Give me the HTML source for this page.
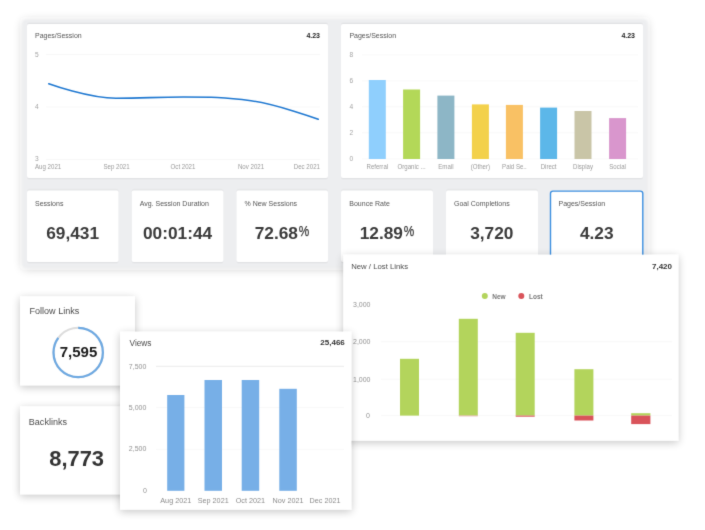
<!DOCTYPE html>
<html>
<head>
<meta charset="utf-8">
<title>Dashboard</title>
<style>
html,body{margin:0;padding:0;background:#fff;}
body{width:705px;height:530px;overflow:hidden;position:relative;font-family:"Liberation Sans",sans-serif;}
svg{position:absolute;left:0;top:0;display:block;}
text{font-family:"Liberation Sans",sans-serif;}
.ttl{font-size:7px;fill:#555;}
.ttl8{font-size:7.75px;fill:#4c4c4c;}
.ttl9{font-size:9.05px;fill:#4c4c4c;}
.val{font-size:7px;font-weight:bold;fill:#222;}
.val8{font-size:8px;font-weight:bold;fill:#333;}
.ax{font-size:6.2px;fill:#9a9a9a;}
.axb{font-size:7px;fill:#9a9a9a;}
.axl{font-size:6.6px;fill:#9a9a9a;}
.ay{font-size:6.6px;fill:#a4a4a4;}
.ax7{font-size:7px;fill:#929292;}
.ax75{font-size:7.25px;fill:#8c8c8c;}
.big{font-size:17.3px;font-weight:bold;fill:#3a3a3a;}
.pct{font-size:14.5px;font-weight:normal;fill:#3a3a3a;stroke:#3a3a3a;stroke-width:0.25;}
.grid{stroke:#f3f3f3;stroke-width:0.6;}
</style>
</head>
<body>
<svg width="705" height="530" viewBox="0 0 705 530">
<defs>
  <filter id="shP" x="-10%" y="-15%" width="120%" height="135%">
    <feGaussianBlur in="SourceAlpha" stdDeviation="4.8" result="b1"/>
    <feOffset in="b1" dx="0" dy="0.5" result="o1"/>
    <feComponentTransfer in="o1" result="s1"><feFuncA type="linear" slope="0.2"/></feComponentTransfer>
    <feGaussianBlur in="SourceGraphic" stdDeviation="0.8" result="sg"/>
    <feMerge><feMergeNode in="s1"/><feMergeNode in="sg"/></feMerge>
  </filter>
  <filter id="shF" x="-20%" y="-20%" width="140%" height="145%">
    <feGaussianBlur in="SourceAlpha" stdDeviation="4.5"/>
    <feOffset dx="0" dy="1.5"/>
    <feComponentTransfer><feFuncA type="linear" slope="0.23"/></feComponentTransfer>
    <feMerge><feMergeNode/><feMergeNode in="SourceGraphic"/></feMerge>
  </filter>
  <filter id="shC" x="-5%" y="-5%" width="110%" height="115%">
    <feGaussianBlur in="SourceAlpha" stdDeviation="0.6 0.8"/>
    <feOffset dx="0" dy="0.2"/>
    <feComponentTransfer><feFuncA type="linear" slope="0.16"/></feComponentTransfer>
    <feMerge><feMergeNode/><feMergeNode in="SourceGraphic"/></feMerge>
  </filter>
  <filter id="soft" x="0" y="0" width="705" height="530" filterUnits="userSpaceOnUse" color-interpolation-filters="sRGB"><feConvolveMatrix order="3" kernelMatrix="0.0125 0.0813 0.0125 0.0813 0.6250 0.0813 0.0125 0.0813 0.0125" edgeMode="duplicate" preserveAlpha="false"/></filter>
</defs>
<rect x="0" y="0" width="705" height="530" fill="#fff"/>
<g filter="url(#soft)">
<rect x="0" y="0" width="705" height="530" fill="#fff"/>

<!-- ===== grey dashboard panel ===== -->
<rect x="22.3" y="19.5" width="625.2" height="248.4" rx="4" fill="#edeef0" filter="url(#shP)"/>

<!-- big card A : line chart -->
<rect x="27" y="24" width="301" height="154" rx="2" fill="#fff" filter="url(#shC)"/>
<text class="ttl" x="35" y="38">Pages/Session</text>
<text class="val" x="320" y="38" text-anchor="end">4.23</text>
<line class="grid" x1="46" x2="320" y1="54.5" y2="54.5"/>
<line class="grid" x1="46" x2="320" y1="107" y2="107"/>
<line class="grid" x1="46" x2="320" y1="159.5" y2="159.5"/>
<text class="ay" x="35" y="56.8">5</text>
<text class="ay" x="35" y="109.3">4</text>
<text class="ay" x="35" y="161">3</text>
<path d="M48.75 83.75 C48.75 83.75 89.10 98.25 116.00 98.25 C143.00 98.25 156.50 97.00 183.50 97.00 C210.50 97.00 224.00 97.00 251.00 100.75 C277.90 104.50 318.25 119.25 318.25 119.25" fill="none" stroke="#1f78d1" stroke-width="1.6" stroke-linecap="round"/>
<text class="axl" transform="translate(35 168.9) scale(0.93 1)">Aug 2021</text>
<text class="axl" transform="translate(116.5 168.9) scale(0.93 1)" text-anchor="middle">Sep 2021</text>
<text class="axl" transform="translate(183 168.9) scale(0.93 1)" text-anchor="middle">Oct 2021</text>
<text class="axl" transform="translate(251 168.9) scale(0.93 1)" text-anchor="middle">Nov 2021</text>
<text class="axl" transform="translate(320 168.9) scale(0.93 1)" text-anchor="end">Dec 2021</text>

<!-- big card B : bar chart -->
<rect x="341" y="24" width="302" height="154" rx="2" fill="#fff" filter="url(#shC)"/>
<text class="ttl" x="349.4" y="38">Pages/Session</text>
<text class="val" x="635" y="38" text-anchor="end">4.23</text>
<line class="grid" x1="362" x2="638" y1="54.9" y2="54.9"/>
<line class="grid" x1="362" x2="638" y1="80.9" y2="80.9"/>
<line class="grid" x1="362" x2="638" y1="106.8" y2="106.8"/>
<line class="grid" x1="362" x2="638" y1="132.8" y2="132.8"/>
<line class="grid" x1="362" x2="638" y1="158.9" y2="158.9"/>
<text class="ay" x="349.4" y="57.3">8</text>
<text class="ay" x="349.4" y="83.3">6</text>
<text class="ay" x="349.4" y="109.2">4</text>
<text class="ay" x="349.4" y="135.2">2</text>
<text class="ay" x="349.4" y="161.1">0</text>
<rect x="368.8" y="80" width="17" height="79" fill="#8fcffd"/>
<rect x="403.1" y="89.5" width="17" height="69.5" fill="#b3d858"/>
<rect x="437.4" y="95.6" width="17" height="63.4" fill="#8db6c6"/>
<rect x="471.9" y="104.4" width="17" height="54.6" fill="#f3d14b"/>
<rect x="505.9" y="104.9" width="17" height="54.1" fill="#f9c164"/>
<rect x="540.1" y="107.6" width="17" height="51.4" fill="#5cb7e9"/>
<rect x="574.5" y="111" width="17" height="48" fill="#c9c5a7"/>
<rect x="609.1" y="118.1" width="17" height="40.9" fill="#d996cd"/>
<text class="axb" transform="translate(377.3 168.8) scale(0.87 1)" text-anchor="middle">Referral</text>
<text class="axb" transform="translate(411.6 168.8) scale(0.87 1)" text-anchor="middle">Organic ...</text>
<text class="axb" transform="translate(445.9 168.8) scale(0.87 1)" text-anchor="middle">Email</text>
<text class="axb" transform="translate(480.4 168.8) scale(0.87 1)" text-anchor="middle">(Other)</text>
<text class="axb" transform="translate(514.4 168.8) scale(0.87 1)" text-anchor="middle">Paid Se..</text>
<text class="axb" transform="translate(548.6 168.8) scale(0.87 1)" text-anchor="middle">Direct</text>
<text class="axb" transform="translate(583 168.8) scale(0.87 1)" text-anchor="middle">Display</text>
<text class="axb" transform="translate(617.6 168.8) scale(0.87 1)" text-anchor="middle">Social</text>

<!-- small cards -->
<rect x="27" y="190.6" width="91.6" height="71.4" rx="2" fill="#fff" filter="url(#shC)"/>
<text class="ttl" x="35" y="205.9">Sessions</text>
<text class="big" x="72.6" y="239.3" text-anchor="middle">69,431</text>

<rect x="131.7" y="190.6" width="91.8" height="71.4" rx="2" fill="#fff" filter="url(#shC)"/>
<text class="ttl" x="139.7" y="205.9">Avg. Session Duration</text>
<text class="big" x="177.6" y="239.3" text-anchor="middle">00:01:44</text>

<rect x="236.4" y="190.6" width="91.6" height="71.4" rx="2" fill="#fff" filter="url(#shC)"/>
<text class="ttl" x="244.5" y="205.9">% New Sessions</text>
<text class="big" x="254.7" y="239.3">72.68</text>
<text class="pct" x="298.7" y="236.2" textLength="10.5" lengthAdjust="spacingAndGlyphs">%</text>

<rect x="341" y="190.6" width="92" height="71.4" rx="2" fill="#fff" filter="url(#shC)"/>
<text class="ttl" x="349.3" y="205.9">Bounce Rate</text>
<text class="big" x="359.7" y="239.3">12.89</text>
<text class="pct" x="403.7" y="236.2" textLength="10.5" lengthAdjust="spacingAndGlyphs">%</text>

<rect x="446" y="190.6" width="92" height="71.4" rx="2" fill="#fff" filter="url(#shC)"/>
<text class="ttl" x="454" y="205.9">Goal Completions</text>
<text class="big" x="491.8" y="239.3" text-anchor="middle">3,720</text>

<rect x="550.5" y="191.1" width="92.3" height="71" rx="2.5" fill="#fff" stroke="#3d8fe0" stroke-width="1.4"/>
<text class="ttl" x="558.5" y="205.9">Pages/Session</text>
<text class="big" x="596.7" y="239.3" text-anchor="middle">4.23</text>

<!-- ===== Follow Links card ===== -->
<rect x="20" y="296.3" width="115" height="89" fill="#fff" filter="url(#shF)"/>
<text class="ttl9" x="29.5" y="314.3">Follow Links</text>
<circle cx="78.2" cy="352.5" r="24.7" fill="none" stroke="#dcdcdc" stroke-width="2.1"/>
<circle cx="78.2" cy="352.5" r="24.7" fill="none" stroke="#6ea9e2" stroke-width="2.2" stroke-dasharray="131.2 200" transform="rotate(-90 78.2 352.5)"/>
<text x="78.5" y="357.3" text-anchor="middle" style="font-size:15px;font-weight:bold;fill:#1c1c1c;">7,595</text>

<!-- ===== Backlinks card ===== -->
<rect x="20" y="406.3" width="115" height="88" fill="#fff" filter="url(#shF)"/>
<text class="ttl9" x="28.8" y="424.5">Backlinks</text>
<text x="76.6" y="466.3" text-anchor="middle" style="font-size:21.9px;font-weight:bold;fill:#333;">8,773</text>

<!-- ===== New / Lost Links panel ===== -->
<rect x="343.3" y="254.7" width="335" height="186" fill="#fff" filter="url(#shF)"/>
<text class="ttl8" x="351.2" y="268.8">New / Lost Links</text>
<text class="val8" x="672" y="268.9" text-anchor="end">7,420</text>
<line class="grid" x1="381" x2="672" y1="341.7" y2="341.7"/>
<line class="grid" x1="381" x2="672" y1="379.2" y2="379.2"/>
<line class="grid" x1="381" x2="672" y1="415.6" y2="415.6"/>
<text class="ax7" x="353" y="306.8">3,000</text>
<text class="ax7" x="353" y="344.2">2,000</text>
<text class="ax7" x="353" y="381.7">1,000</text>
<text class="ax7" x="366" y="417.6">0</text>
<circle cx="484.8" cy="296" r="3" fill="#b3d45c"/>
<text x="492.2" y="298.9" style="font-size:6.5px;font-weight:bold;fill:#777;">New</text>
<circle cx="521.3" cy="296" r="3" fill="#d9535a"/>
<text x="529" y="298.9" style="font-size:6.5px;font-weight:bold;fill:#777;">Lost</text>
<rect x="400" y="358.8" width="19" height="56.8" fill="#b3d45c"/>
<rect x="458.8" y="318.8" width="19" height="96.8" fill="#b3d45c"/>
<rect x="458.8" y="415.6" width="19" height="0.7" fill="#e2a0a0"/>
<rect x="515.7" y="332.8" width="19" height="82.8" fill="#b3d45c"/>
<rect x="515.7" y="415.6" width="19" height="1.1" fill="#d9535a"/>
<rect x="574.4" y="369.2" width="19" height="46.4" fill="#b3d45c"/>
<rect x="574.4" y="415.6" width="19" height="4.9" fill="#d9535a"/>
<rect x="631.2" y="413.2" width="19.2" height="2.4" fill="#b3d45c"/>
<rect x="631.2" y="415.6" width="19.2" height="8.5" fill="#d9535a"/>

<!-- ===== Views panel ===== -->
<rect x="120" y="331.7" width="231.3" height="178" fill="#fff" filter="url(#shF)"/>
<text class="ttl8" x="129.5" y="345.8" style="font-size:8.3px">Views</text>
<text class="val8" x="344.8" y="345.1" text-anchor="end">25,466</text>
<line class="grid" x1="156" x2="344" y1="366.3" y2="366.3" style="stroke:#dedede"/>
<line class="grid" x1="156" x2="344" y1="407.6" y2="407.6"/>
<line class="grid" x1="156" x2="344" y1="449.3" y2="449.3"/>
<text class="ax7" x="128.8" y="368.8">7,500</text>
<text class="ax7" x="128.8" y="410">5,000</text>
<text class="ax7" x="128.8" y="451.3">2,500</text>
<text class="ax7" x="143" y="492.5">0</text>
<rect x="167.2" y="395" width="17.2" height="95.8" fill="#77afe7"/>
<rect x="204.5" y="380" width="17.5" height="110.8" fill="#77afe7"/>
<rect x="241.7" y="380" width="17.5" height="110.8" fill="#77afe7"/>
<rect x="279.3" y="388.8" width="17.5" height="102" fill="#77afe7"/>
<text class="ax75" x="175.8" y="503" text-anchor="middle">Aug 2021</text>
<text class="ax75" x="213.2" y="503" text-anchor="middle">Sep 2021</text>
<text class="ax75" x="250.4" y="503" text-anchor="middle">Oct 2021</text>
<text class="ax75" x="288" y="503" text-anchor="middle">Nov 2021</text>
<text class="ax75" x="325" y="503" text-anchor="middle">Dec 2021</text>
</g>
</svg>
</body>
</html>
